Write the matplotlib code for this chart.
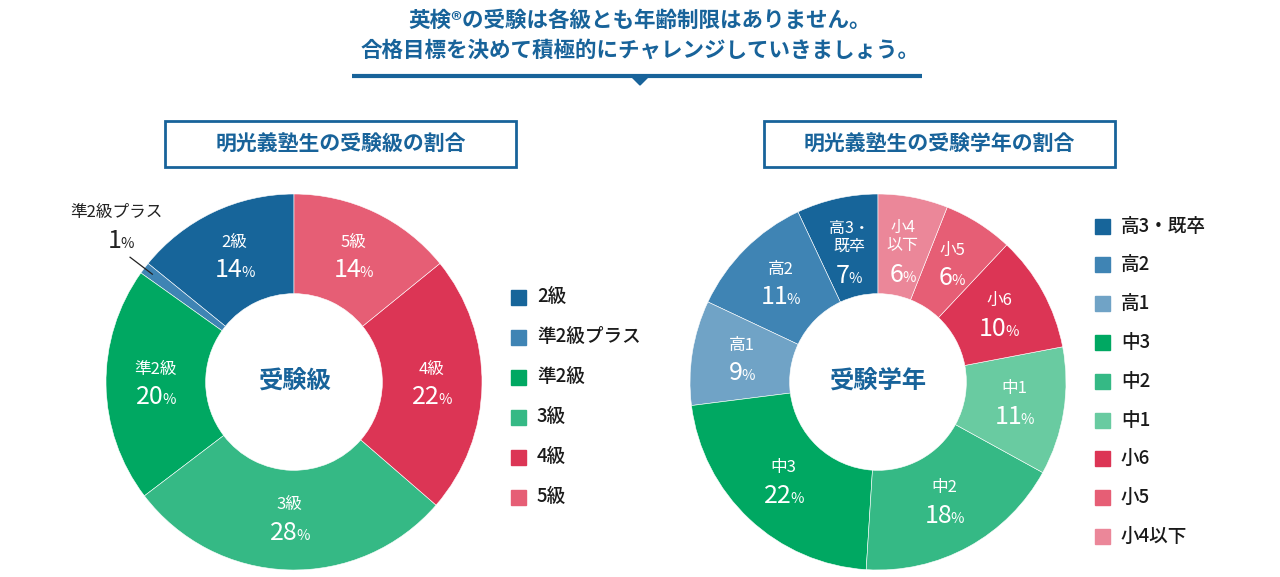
import matplotlib
matplotlib.use("Agg")
import numpy as np
import matplotlib.pyplot as plt
from matplotlib.patches import Rectangle, Polygon
from matplotlib.offsetbox import TextArea, HPacker, AnnotationBbox

plt.rcParams['font.family'] = ['Noto Sans CJK JP', 'DejaVu Sans']

# --- data ---
title_lines = ["英検®の受験は各級とも年齢制限はありません。",
               "合格目標を決めて積極的にチャレンジしていきましょう。"]

grade_title = "明光義塾生の受験級の割合"
grade_center = "受験級"
grade_labels = ["2級", "準2級プラス", "準2級", "3級", "4級", "5級"]
grade_slice_labels = ["2級", "準2級プラス", "準2級", "3級", "4級", "5級"]
grade_values = [14, 1, 20, 28, 22, 14]
grade_colors = ["#17659a", "#3f84b4", "#00a862", "#35b985", "#dc3555", "#e65e75"]

year_title = "明光義塾生の受験学年の割合"
year_center = "受験学年"
year_labels = ["高3・既卒", "高2", "高1", "中3", "中2", "中1", "小6", "小5", "小4以下"]
year_slice_labels = ["高3・\n既卒", "高2", "高1", "中3", "中2", "中1", "小6", "小5", "小4\n以下"]
year_values = [7, 11, 9, 22, 18, 11, 10, 6, 6]
year_colors = ["#17659a", "#3f84b4", "#70a3c6", "#00a862", "#35b985", "#69cba1",
               "#dc3555", "#e65e75", "#eb8799"]

BLUE = "#18639a"
W, H = 1280, 577
R_OUT = 188
R_LAB = 138

fig = plt.figure(figsize=(W / 100, H / 100), dpi=100)
fig.patch.set_facecolor("white")

for cx, vals, cols in [(294, grade_values, grade_colors), (878, year_values, year_colors)]:
    cy = 382
    ax = fig.add_axes([(cx - 190) / W, (H - cy - 190) / H, 380 / W, 380 / H])
    ax.pie(vals, colors=cols, startangle=90, counterclock=True, radius=1,
           wedgeprops=dict(width=0.53, edgecolor="white", linewidth=0.4))
    ax.set_xlim(-190 / R_OUT, 190 / R_OUT)
    ax.set_ylim(-190 / R_OUT, 190 / R_OUT)
    ax.set_aspect("equal")
    ax.axis("off")

# overlay in pixel coordinates
ov = fig.add_axes([0, 0, 1, 1], zorder=10)
ov.set_xlim(0, W)
ov.set_ylim(H, 0)
ov.axis("off")
ov.patch.set_visible(False)


def pct_box(x, y, value, color):
    box = HPacker(children=[TextArea(str(value), textprops=dict(color=color, fontsize=18)),
                            TextArea("%", textprops=dict(color=color, fontsize=10.5))],
                  align="baseline", pad=0, sep=-1)
    ab = AnnotationBbox(box, (x, y), xycoords="data", frameon=False,
                        box_alignment=(0.5, 0.5), pad=0)
    ov.add_artist(ab)


# title
ov.text(640, 20, title_lines[0], ha="center", va="center", fontsize=15.5,
        fontweight="bold", color=BLUE)
ov.text(640, 50, title_lines[1], ha="center", va="center", fontsize=15.5,
        fontweight="bold", color=BLUE)
ov.plot([352, 922], [76, 76], color=BLUE, lw=3, solid_capstyle="butt")
ov.add_patch(Polygon([(631, 76), (649, 76), (640, 85)], closed=True, color=BLUE))


def donut_text(cx, cy, labels, slice_labels, values, colors, center_text, title,
               box_x, leg_x, leg_y0, leg_dy):
    # heading box
    ov.add_patch(Rectangle((box_x, 121), 351, 46, fill=False, edgecolor=BLUE, lw=2))
    ov.text(box_x + 175.5, 144, title, ha="center", va="center", fontsize=15,
            fontweight="bold", color=BLUE)
    ov.text(cx, cy, center_text, ha="center", va="center", fontsize=17.5,
            fontweight="bold", color=BLUE)

    total = float(sum(values))
    start = 90.0
    for lab, v in zip(slice_labels, values):
        sweep = 360.0 * v / total
        mid = np.radians(start + sweep / 2)
        start += sweep
        if v < 3:
            # small slice: label outside with a leader line
            ca, sa = np.cos(mid), np.sin(mid)
            ov.plot([cx + 178 * ca, cx + 206 * ca], [cy - 178 * sa, cy - 206 * sa],
                    color="#222222", lw=0.9)
            px, py = cx + 232 * ca, cy - 232 * sa
            pct_box(px + 11, py, v, "#222222")
            ov.text(px + 7, py - 29, lab, ha="center", va="center", fontsize=12,
                    color="#222222")
            continue
        r = R_LAB if "\n" not in lab else 132
        x, y = cx + r * np.cos(mid), cy - r * np.sin(mid)
        if "\n" in lab:
            ov.text(x, y - 16, lab, ha="center", va="center", fontsize=11.5,
                    color="white", linespacing=1.1)
            pct_box(x, y + 23, v, "white")
        else:
            ov.text(x, y - 15, lab, ha="center", va="center", fontsize=12,
                    color="white")
            pct_box(x, y + 13, v, "white")

    # legend
    for i, (lab, c) in enumerate(zip(labels, colors)):
        y = leg_y0 + i * leg_dy
        ov.add_patch(Rectangle((leg_x, y - 7.5), 15, 15, color=c))
        ov.text(leg_x + 26, y, lab, ha="left", va="center", fontsize=13.4,
                fontweight="medium", color="#1a1a1a")


donut_text(294, 382, grade_labels, grade_slice_labels, grade_values, grade_colors,
           grade_center, grade_title, 165, 511, 297, 40)
donut_text(878, 382, year_labels, year_slice_labels, year_values, year_colors,
           year_center, year_title, 764, 1095, 226, 38.8)

fig.savefig("out.png", dpi=100)
